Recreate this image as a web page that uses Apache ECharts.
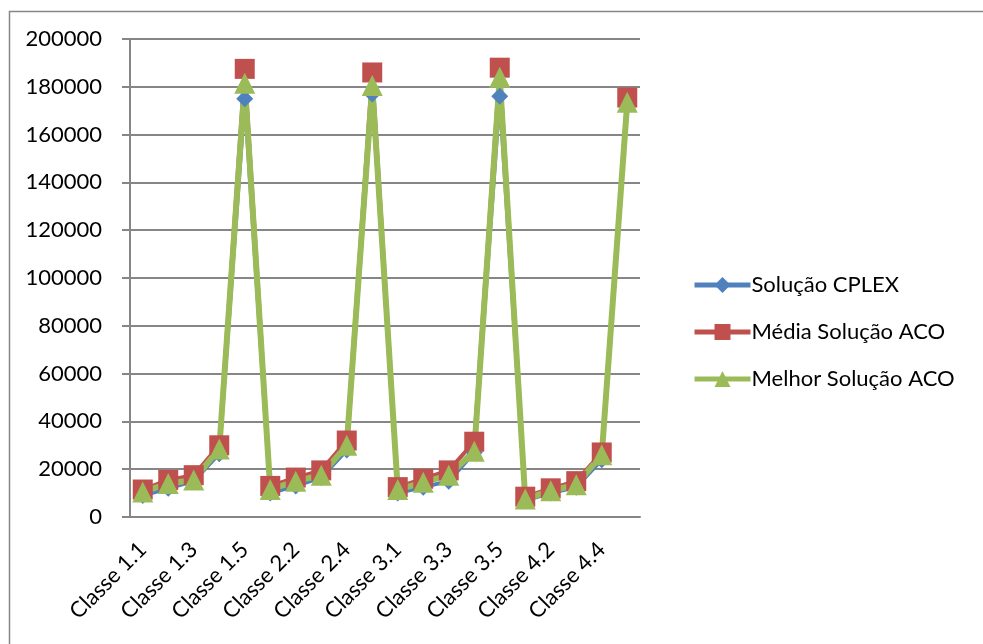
<!DOCTYPE html>
<html>
<head>
<meta charset="utf-8">
<script src="https://cdn.jsdelivr.net/npm/echarts@6/dist/echarts.min.js"></script>
<style>
  html, body { margin: 0; padding: 0; background: #fff; }
  #chart { width: 983px; height: 644px; }
</style>
</head>
<body>
<div id="chart"></div>
<script>
// Problem classes (instances) on the x axis
const categories = [
  'Classe 1.1', 'Classe 1.2', 'Classe 1.3', 'Classe 1.4', 'Classe 1.5',
  'Classe 2.1', 'Classe 2.2', 'Classe 2.3', 'Classe 2.4', 'Classe 2.5',
  'Classe 3.1', 'Classe 3.2', 'Classe 3.3', 'Classe 3.4', 'Classe 3.5',
  'Classe 4.1', 'Classe 4.2', 'Classe 4.3', 'Classe 4.4', 'Classe 4.5'
];

// Objective values per class
const cplex = [
  9000, 12000, 15000, 26500, 175000,
  10000, 13000, 16500, 28000, 177000,
  10000, 12500, 15000, 27000, 176000,
  7000, 10000, 12500, 24000, 173000
];
const acoMean = [
  11500, 15500, 17500, 30000, 187500,
  13000, 16500, 19500, 32000, 186000,
  12500, 16000, 19500, 31500, 188000,
  8500, 12000, 15000, 27000, 175500
];
const acoBest = [
  10500, 14000, 15500, 28500, 181500,
  11500, 15000, 17500, 30000, 180500,
  11500, 14500, 17500, 27500, 184000,
  7500, 11000, 13500, 26000, 173500
];

const seriesNames = ['Solução CPLEX', 'Média Solução ACO', 'Melhor Solução ACO'];

const FONT = 'Lato';
const AXIS_GRAY = '#868686';

const chart = echarts.init(document.getElementById('chart'), null, { renderer: 'canvas' });

chart.setOption({
  backgroundColor: '#ffffff',
  animation: false,
  textStyle: { fontFamily: FONT },
  graphic: [{
    type: 'rect',
    left: 7, top: 9,
    shape: { width: 1100, height: 800 },
    style: { fill: 'none', stroke: AXIS_GRAY, lineWidth: 1.5 },
    silent: true
  }],
  grid: { left: 130, right: 343, top: 39, bottom: 127 },
  legend: {
    orient: 'vertical',
    left: 687,
    top: 269,
    itemWidth: 56,
    itemHeight: 20,
    itemGap: 25,
    lineStyle: { width: 5 },
    textStyle: { fontFamily: FONT, fontSize: 22, color: '#000', padding: [0, 0, 0, -4] },
    data: seriesNames
  },
  xAxis: {
    type: 'category',
    data: categories,
    boundaryGap: true,
    axisLine: { lineStyle: { color: AXIS_GRAY, width: 2 } },
    axisTick: { interval: 0, length: 8, lineStyle: { color: AXIS_GRAY, width: 2 } },
    axisLabel: {
      interval: 1,
      rotate: 45,
      margin: 29,
      fontFamily: FONT,
      fontSize: 22,
      color: '#000'
    },
    splitLine: { show: false }
  },
  yAxis: {
    type: 'value',
    min: 0,
    max: 200000,
    interval: 20000,
    axisLine: { show: true, lineStyle: { color: AXIS_GRAY, width: 2 } },
    axisTick: { show: true, length: 8, lineStyle: { color: AXIS_GRAY, width: 2 } },
    axisLabel: {
      margin: 28, fontFamily: FONT, fontSize: 22, color: '#000',
      formatter: v => String(v)
    },
    splitLine: { lineStyle: { color: AXIS_GRAY, width: 2 } }
  },
  series: [
    {
      name: seriesNames[0],
      type: 'line',
      data: cplex,
      symbol: 'diamond',
      symbolSize: 17,
      showAllSymbol: true,
      lineStyle: { color: '#4F81BD', width: 4 },
      itemStyle: { color: '#4F81BD' }
    },
    {
      name: seriesNames[1],
      type: 'line',
      data: acoMean,
      symbol: 'rect',
      symbolSize: 20,
      showAllSymbol: true,
      lineStyle: { color: '#C0504D', width: 4 },
      itemStyle: { color: '#C0504D' }
    },
    {
      name: seriesNames[2],
      type: 'line',
      data: acoBest,
      symbol: 'triangle',
      symbolSize: 21,
      showAllSymbol: true,
      lineStyle: { color: '#9BBB59', width: 6 },
      itemStyle: { color: '#9BBB59' }
    }
  ]
});
</script>
</body>
</html>
